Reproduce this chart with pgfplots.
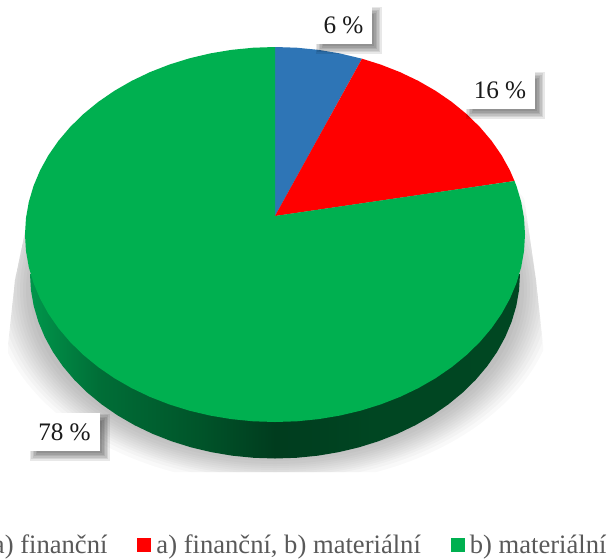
\documentclass[border=0pt]{standalone}
\usepackage{pgfplots}
\pgfplotsset{compat=1.18}
\usepackage{fontspec}
\setmainfont{Liberation Serif}
\definecolor{pblue}{HTML}{2E75B6}
\definecolor{pred}{HTML}{FF0000}
\definecolor{pgreen}{HTML}{00B050}
\definecolor{ltext}{HTML}{595959}
\definecolor{ltxt}{HTML}{1A1A1A}
\definecolor{wa}{RGB}{0,150,75}
\definecolor{wb}{RGB}{0,110,55}
\definecolor{wc}{RGB}{0,85,42}
\definecolor{wd}{RGB}{0,60,30}
\definecolor{we}{RGB}{0,70,34}
\definecolor{wf}{RGB}{0,72,35}
\pgfdeclarehorizontalshading{wall}{100bp}{
 color(0bp)=(wa);
 color(25bp)=(wa);
 color(32bp)=(wb);
 color(42bp)=(wc);
 color(50bp)=(wd);
 color(60bp)=(we);
 color(100bp)=(wf)}
\newcommand{\shlayer}[2]{\fill[black,opacity=.024] (axis cs:275,290) ellipse [x radius=#1pt,y radius=#2pt];}
\newcommand{\sh}[4]{\node[fill=black,opacity=.09,inner sep=0pt,minimum width={#2pt+#4pt},minimum height={#3pt+#4pt},xshift=5pt,yshift=-5pt] at #1 {};}
\newcommand{\lab}[5]{%
 \sh{(axis cs:#1,#2)}{#3}{#4}{9}\sh{(axis cs:#1,#2)}{#3}{#4}{6}\sh{(axis cs:#1,#2)}{#3}{#4}{3}
 \sh{(axis cs:#1,#2)}{#3}{#4}{0}\sh{(axis cs:#1,#2)}{#3}{#4}{-3}\sh{(axis cs:#1,#2)}{#3}{#4}{-6}
 \node[fill=white,inner sep=0pt,text=ltxt,minimum width=#3pt,minimum height=#4pt,font=\fontsize{25.2}{28}\selectfont] at (axis cs:#1,#2) {#5};}
\begin{document}
\begin{tikzpicture}
\begin{axis}[
  width=611pt,height=558pt,scale only axis,
  xmin=0,xmax=611,ymin=0,ymax=558,y dir=reverse,
  hide axis,clip=false,
  legend columns=3,
  legend style={at={(axis cs:-26,545)},anchor=west,draw=none,fill=none,
    inner sep=0pt,outer sep=0pt,
    font=\fontsize{26.6}{28}\selectfont,text=ltext,
    /tikz/every even column/.append style={column sep=30pt},
    /tikz/every odd column/.append style={column sep=5pt},
    nodes={inner sep=0pt}},
  legend image code/.code={\fill[#1] (0pt,-7pt) rectangle (14pt,7pt);},
]
% soft shadow under the pie
\begin{scope}
\clip (axis cs:275,100) -- (axis cs:522,183) -- (axis cs:536,280) -- (axis cs:543,345) -- (axis cs:543,472) -- (axis cs:8,472) -- (axis cs:8,345) -- (axis cs:15,280) -- (axis cs:40,160) -- cycle;
\shlayer{245}{168}\shlayer{249}{171}\shlayer{252}{174}\shlayer{255}{176}\shlayer{258}{178}\shlayer{261}{180}
\shlayer{264}{182}\shlayer{267}{184}\shlayer{270}{186}\shlayer{274}{188}\shlayer{278}{191}\shlayer{282}{195}
\end{scope}
% side wall of the disc
\addplot[forget plot,draw=none,shading=wall] coordinates {
(30,274)(30.93,290.08)(33.72,306.04)(38.35,321.75)(44.78,337.10)(52.95,351.97)(62.82,366.25)(74.31,379.83)(87.32,392.59)(101.76,404.46)(117.52,415.33)(134.47,425.13)(152.5,433.78)(171.46,441.21)(191.21,447.37)(211.59,452.21)(232.46,455.70)(253.65,457.80)(275,458.5)
(296.35,457.80)(317.54,455.70)(338.41,452.21)(358.79,447.37)(378.54,441.21)(397.5,433.78)(415.53,425.13)(432.48,415.33)(448.24,404.46)(462.68,392.59)(475.69,379.83)(487.18,366.25)(497.05,351.97)(505.22,337.10)(511.65,321.75)(516.28,306.04)(519.07,290.08)(520,274)
} --cycle;
% slices: a) financni 6 %
\addplot[draw=none,fill=pblue] coordinates {
(275,216)(275,47)(296.79,47.71)(318.41,49.85)(339.71,53.39)(362,58.7)
} --cycle;
\addlegendentry{a) finanční}
% a) financni, b) materialni 16 %
\addplot[draw=none,fill=pred] coordinates {
(275,216)(362,58.7)(380.66,64.57)(400,72.12)(418.4,80.91)(435.7,90.87)(451.78,101.92)(466.51,113.98)(479.79,126.95)(491.51,140.75)(501.58,155.26)(509.92,170.37)(514.5,181)
} --cycle;
\addlegendentry{a) finanční, b) materiální}
% b) materialni 78 %
\addplot[draw=none,fill=pgreen] coordinates {
(275,216)(514.5,181)(516.48,185.97)(521.2,201.94)(524.05,218.16)(525,234.5)
(524.05,250.84)(521.2,267.06)(516.48,283.03)(509.92,298.63)(501.58,313.74)(491.51,328.25)(479.79,342.05)(466.51,355.02)(451.78,367.08)(435.7,378.13)(418.4,388.09)(400,396.88)(380.66,404.43)(360.51,410.69)(339.71,415.61)(318.41,419.15)(296.79,421.29)(275,422)
(253.21,421.29)(231.59,419.15)(210.29,415.61)(189.49,410.69)(169.34,404.43)(150,396.88)(131.6,388.09)(114.3,378.13)(98.22,367.08)(83.49,355.02)(70.21,342.05)(58.49,328.25)(48.42,313.74)(40.08,298.63)(33.52,283.03)(28.8,267.06)(25.95,250.84)(25,234.5)
(25.95,218.16)(28.8,201.94)(33.52,185.97)(40.08,170.37)(48.42,155.26)(58.49,140.75)(70.21,126.95)(83.49,113.98)(98.22,101.92)(114.3,90.87)(131.6,80.91)(150,72.12)(169.34,64.57)(189.49,58.31)(210.29,53.39)(231.59,49.85)(253.21,47.71)(275,47)
} --cycle;
\addlegendentry{b) materiální}
\lab{343.5}{25}{57}{38}{6 \%}
\lab{500}{90}{70}{38}{16 \%}
\lab{64.5}{432}{71}{38}{78 \%}
\end{axis}
\pgfresetboundingbox
\path[use as bounding box] (0,0) rectangle (611pt,558pt);
\end{tikzpicture}
\end{document}
